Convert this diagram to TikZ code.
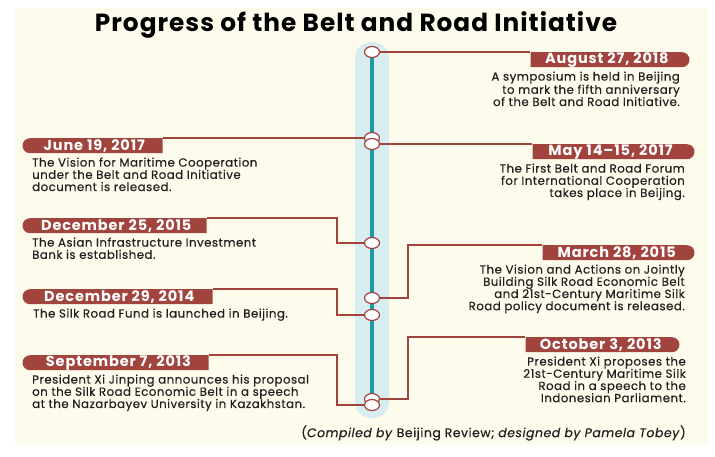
\documentclass[tikz,border=0pt]{standalone}
\usepackage{fontspec}
\setmainfont{Poppins}
\usepackage{tikz}
\usetikzlibrary{positioning,shapes.geometric,shapes.misc}
\definecolor{cream}{HTML}{FDFBEC}
\definecolor{bandblue}{HTML}{D8EDF0}
\definecolor{railteal}{HTML}{1E9AA6}
\definecolor{brick}{HTML}{A2443E}
\definecolor{ink}{HTML}{231F20}
\tikzset{
  pill/.style={rounded rectangle, fill=brick, text=white, minimum height=15pt,
               inner sep=0pt, font=\fontsize{14.5}{14.5}\selectfont\bfseries\addfontfeatures{LetterSpace=6}},
  pilll/.style={pill, rounded rectangle right arc=none, anchor=north west},
  pillr/.style={pill, rounded rectangle left arc=none, anchor=north east},
  desc/.style={inner sep=0pt, text=ink,
               font=\fontsize{11.8}{12.2}\selectfont\addfontfeatures{LetterSpace=4,FakeBold=0.3}},
  descl/.style={desc, align=left},
  descr/.style={desc, align=right},
  stop/.style={ellipse, draw=brick, fill=white, line width=1.2pt,
               minimum width=15pt, minimum height=11pt, inner sep=0pt},
  link/.style={draw=brick, line width=1.1pt},
}

\begin{document}
\begin{tikzpicture}[x=1pt, y=-1pt]
  \useasboundingbox (0,0) rectangle (715,456);
  \fill[cream] (15,8) rectangle (708,444);
  \node[font=\fontsize{24.8}{26}\selectfont\bfseries\addfontfeatures{LetterSpace=4}, text=black] (title) at (356,25)
    {Progress of the Belt and Road Initiative};
  \fill[bandblue, rounded corners=16pt] (355,42) rectangle (389,418);
  \draw[railteal, line width=4.5pt] (372,52) -- (372,405);
  \coordinate (lx) at (337,0);
  \coordinate (rx) at (408,0);

  \node[stop] (c18) at (372,52) {};
  \node[stop] (c17a) at (372,138) {};
  \node[stop] (c17b) at (372,144) {};
  \node[stop] (c15a) at (372,243) {};
  \node[stop] (c15b) at (372,298) {};
  \node[stop] (c14) at (372,315) {};
  \node[stop] (c13b) at (372,399) {};
  \node[stop] (c13a) at (372,405) {};

  \node[pillr, minimum width=159pt] (p18) at (682,52) {August 27, 2018};
  \node[descr, below left=4pt and 2pt of p18.south east] (d18)
    {A symposium is held in Beijing\\to mark the fifth anniversary\\of the Belt and Road Initiative.};
  \draw[link] (c18.east) -- (p18.north west);

  \node[pilll, minimum width=140pt] (p17a) at (30,138) {June 19, 2017};
  \node[descl, below right=4pt and 2pt of p17a.south west] (d17a)
    {The Vision for Maritime Cooperation\\under the Belt and Road Initiative\\document is released.};
  \draw[link] (p17a.north east) -- (c17a.west);

  \node[pillr, minimum width=162pt] (p17b) at (687,144) {May 14--15, 2017};
  \node[descr, below left=4pt and 2pt of p17b.south east] (d17b)
    {The First Belt and Road Forum\\for International Cooperation\\takes place in Beijing.};
  \draw[link] (c17b.east) -- (p17b.north west);

  \node[pilll, minimum width=184pt] (p15a) at (30,218) {December 25, 2015};
  \node[descl, below right=4pt and 2pt of p15a.south west] (d15a)
    {The Asian Infrastructure Investment\\Bank is established.};
  \draw[link] (p15a.north east) -| (lx |- c15a.west) -- (c15a.west);

  \node[pillr, minimum width=152pt] (p15b) at (687,245) {March 28, 2015};
  \node[descr, below left=4pt and 2pt of p15b.south east] (d15b)
    {The Vision and Actions on Jointly\\Building Silk Road Economic Belt\\and 21st-Century Maritime Silk\\Road policy document is released.};
  \draw[link] (c15b.east) -| (rx |- p15b.north) -- (p15b.north west);

  \node[pilll, minimum width=190pt] (p14) at (30,289) {December 29, 2014};
  \node[descl, below right=4pt and 3pt of p14.south west] (d14)
    {The Silk Road Fund is launched in Beijing.};
  \draw[link] (p14.north east) -| (lx |- c14.west) -- (c14.west);

  \node[pillr, minimum width=154pt] (p13b) at (672,337) {October 3, 2013};
  \node[descr, below left=4pt and -14pt of p13b.south east] (d13b)
    {President Xi proposes the\\21st-Century Maritime Silk\\Road in a speech to the\\Indonesian Parliament.};
  \draw[link] (c13b.east) -| (rx |- p13b.north) -- (p13b.north west);

  \node[pilll, minimum width=186pt] (p13a) at (30,355) {September 7, 2013};
  \node[descl, below right=4pt and 2pt of p13a.south west] (d13a)
    {President Xi Jinping announces his proposal\\on the Silk Road Economic Belt in a speech\\at the Nazarbayev University in Kazakhstan.};
  \draw[link] (p13a.north east) -| (lx |- c13a.west) -- (c13a.west);

  \node[desc, font=\fontsize{12.5}{13}\selectfont\addfontfeatures{LetterSpace=4,FakeBold=0.3}, anchor=east] (credit) at (686,433)
    {(\textit{Compiled by} Beijing Review; \textit{designed by Pamela Tobey})};
\end{tikzpicture}
\end{document}
